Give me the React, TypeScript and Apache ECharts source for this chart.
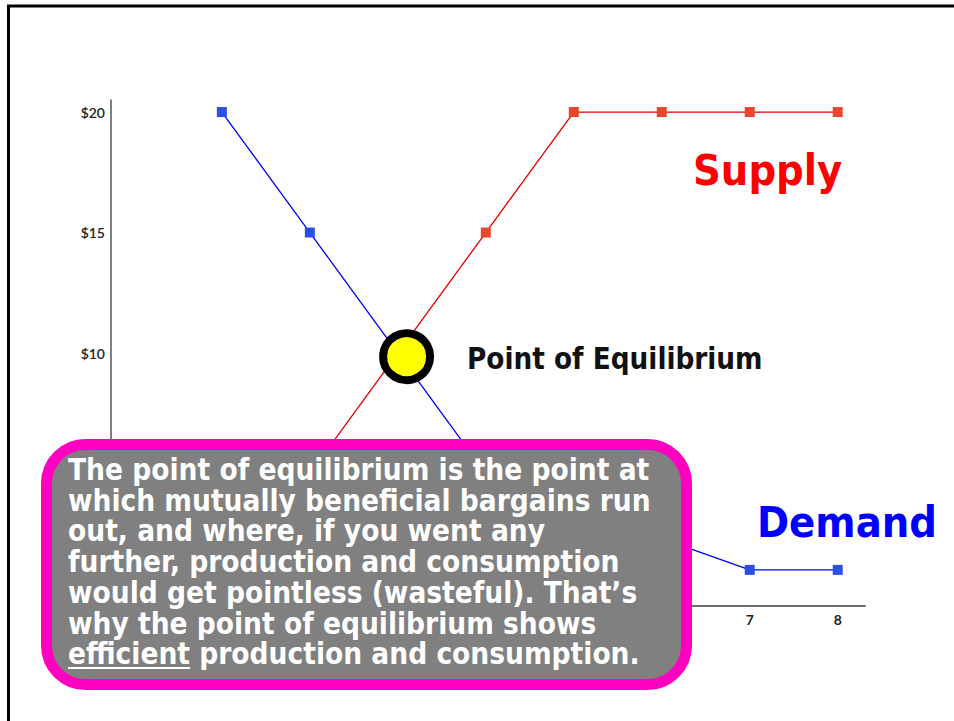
import React, { useEffect, useRef } from "react";
import * as echarts from "echarts";

const xValues = [1, 2, 3, 4, 5, 6, 7, 8];
const demand = [20, 15, 10, 5, 3.5, 2.3, 1, 1];
const supply = [0, 5, 10, 15, 20, 20, 20, 20];
const xTickLabels = [7, 8];
const yTickLabels = [10, 15, 20];
const equilibrium = [3.1, 9.85];
const supplyLabel = "Supply";
const demandLabel = "Demand";
const equilibriumLabel = "Point of Equilibrium";
const boxLines = [
  "The point of equilibrium is the point at",
  "which mutually beneficial bargains run",
  "out, and where, if you went any",
  "further, production and consumption",
  "would get pointless (wasteful). That\u2019s",
  "why the point of equilibrium shows",
  "efficient production and consumption.",
];
const underlinedWord = "efficient";

const FONT_FAMILY = '"DejaVu Sans Condensed", "DejaVu Sans", sans-serif';

function measure(text: string, font: string): number {
  const c = document.createElement("canvas");
  const ctx = c.getContext("2d");
  if (!ctx) return text.length * 14;
  ctx.font = font;
  return ctx.measureText(text).width;
}

export default function App() {
  const ref = useRef<HTMLDivElement>(null);

  useEffect(() => {
    if (!ref.current) return;
    const chart = echarts.init(ref.current, undefined, { renderer: "svg" });

    const boxFont = `bold 29.5px ${FONT_FAMILY}`;
    const ulWidth = measure(underlinedWord, boxFont);
    const textX = 68;
    const firstY = 470;
    const lh = 30.7;

    const boxTexts = boxLines.map((t, i) => ({
      type: "text",
      z: 110,
      style: {
        text: t,
        x: textX,
        y: firstY + i * lh,
        fill: "#ffffff",
        font: boxFont,
        verticalAlign: "middle",
        textAlign: "left",
      },
    }));

    const option: any = {
      animation: false,
      backgroundColor: "#ffffff",
      grid: {
        left: 111,
        right: 89,
        top: 100,
        bottom: 127,
        containLabel: false,
        outerBoundsMode: "none",
      },
      xAxis: {
        type: "value",
        min: -0.26,
        max: 8.31,
        offset: 12,
        axisLine: { show: true, onZero: false, lineStyle: { color: "#6e6e6e", width: 2 } },
        axisTick: { show: false },
        splitLine: { show: false },
        axisLabel: {
          customValues: xTickLabels,
          color: "#222",
          fontSize: 14,
          fontWeight: "bold",
          fontFamily: "Lato, sans-serif",
          margin: 6,
        },
      },
      yAxis: {
        type: "value",
        min: 0,
        max: 20.5,
        axisLine: { show: true, onZero: false, lineStyle: { color: "#555", width: 1.5 } },
        axisTick: { show: false },
        splitLine: { show: false },
        axisLabel: {
          customValues: yTickLabels,
          formatter: (v: number) => "$" + v,
          color: "#222",
          fontSize: 14,
          fontWeight: 600,
          fontFamily: "Lato, sans-serif",
          margin: 6,
        },
      },
      series: [
        {
          type: "line",
          name: "Demand",
          data: xValues.map((x, i) => [x, demand[i]]),
          symbol: "rect",
          symbolSize: 10,
          lineStyle: { color: "#0000ff", width: 1.3 },
          itemStyle: { color: "#2a4fe6" },
          z: 3,
        },
        {
          type: "line",
          name: "Supply",
          data: xValues.map((x, i) => [x, supply[i]]),
          symbol: "rect",
          symbolSize: 10,
          lineStyle: { color: "#e00000", width: 1.3 },
          itemStyle: { color: "#e8472e" },
          z: 3,
        },
        {
          type: "scatter",
          name: "Equilibrium",
          data: [equilibrium],
          symbol: "circle",
          symbolSize: 47,
          itemStyle: { color: "#ffff00", borderColor: "#000000", borderWidth: 8, opacity: 1 },
          z: 5,
        },
      ],
      graphic: [
        {
          type: "line",
          z: 120,
          shape: { x1: 7, y1: 6, x2: 954, y2: 6 },
          style: { stroke: "#000", lineWidth: 3 },
        },
        {
          type: "line",
          z: 120,
          shape: { x1: 8.5, y1: 5, x2: 8.5, y2: 721 },
          style: { stroke: "#000", lineWidth: 3 },
        },
        {
          type: "text",
          z: 100,
          style: {
            text: equilibriumLabel,
            x: 467,
            y: 359,
            fill: "#111",
            font: `bold 29.3px ${FONT_FAMILY}`,
            verticalAlign: "middle",
          },
        },
        {
          type: "text",
          z: 100,
          style: {
            text: supplyLabel,
            x: 693,
            y: 170,
            fill: "#ff0000",
            font: `bold 43px ${FONT_FAMILY}`,
            verticalAlign: "middle",
          },
        },
        {
          type: "text",
          z: 100,
          style: {
            text: demandLabel,
            x: 757,
            y: 522,
            fill: "#0000ff",
            font: `bold 43px ${FONT_FAMILY}`,
            verticalAlign: "middle",
          },
        },
        {
          type: "rect",
          z: 105,
          shape: { x: 46.5, y: 444.5, width: 640, height: 240, r: 39 },
          style: { fill: "#808080", stroke: "#ff00c0", lineWidth: 11 },
        },
        ...boxTexts,
        {
          type: "line",
          z: 111,
          shape: { x1: textX, y1: 668, x2: textX + ulWidth, y2: 668 },
          style: { stroke: "#ffffff", lineWidth: 2 },
        },
      ],
    };

    chart.setOption(option);
    return () => chart.dispose();
  }, []);

  return (
    <div
      ref={ref}
      style={{ position: "fixed", left: 0, top: 0, width: 954, height: 721, background: "#fff" }}
    />
  );
}
